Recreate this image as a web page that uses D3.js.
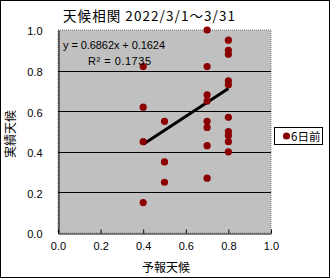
<!DOCTYPE html>
<html><head><meta charset="utf-8">
<script src="https://cdn.jsdelivr.net/npm/d3@7"></script>
<style>body{margin:0;background:#fff}svg{display:block}</style>
</head><body>
<script>
const titleText = "天候相関 2022/3/1～3/31";
const xTitle = "予報天候";
const yTitle = "実績天候";
const seriesName = "6日前";
const forecast = [0.4,0.4,0.4,0.4, 0.5,0.5,0.5, 0.7,0.7,0.7,0.7,0.7,0.7,0.7,0.7, 0.8,0.8,0.8,0.8,0.8,0.8,0.8,0.8,0.8,0.8];
const actual   = [0.82,0.62,0.45,0.15, 0.55,0.35,0.25, 1.0,0.82,0.68,0.65,0.55,0.52,0.43,0.27, 0.95,0.90,0.88,0.75,0.73,0.57,0.50,0.48,0.45,0.40];
const trendCoef = [0.6862, 0.1624]; // slope, intercept
const rSquared = "0.1735";
const xTicks = [0,0.2,0.4,0.6,0.8,1.0];
const yTicks = [0,0.2,0.4,0.6,0.8,1.0];

const W=330,H=278;
const svg=d3.select("body").append("svg").attr("width",W).attr("height",H);
svg.append("rect").attr("x",0.5).attr("y",0.5).attr("width",W-1).attr("height",H-1).attr("fill","#fff").attr("stroke","#000");

const L=58,R=271,T=30,B=233;
const x=d3.scaleLinear().domain([0,1]).range([L,R]);
const y=d3.scaleLinear().domain([0,1]).range([B,T]);

svg.append("rect").attr("x",L).attr("y",T).attr("width",R-L).attr("height",B-T)
  .attr("fill","#c0c0c0").attr("stroke","#808080").attr("stroke-dasharray","1,1");

// gridlines
svg.append("g").selectAll("line").data(yTicks.filter(d=>d>0&&d<1)).join("line")
  .attr("x1",L).attr("x2",R).attr("y1",d=>Math.round(y(d))+0.5).attr("y2",d=>Math.round(y(d))+0.5)
  .attr("stroke","#000");

const fnum=d3.format(".1f");
const lat="Liberation Sans, Arial, sans-serif";
// axes
const yAxis=svg.append("g").attr("transform",`translate(${L+0.5},0)`)
  .call(d3.axisLeft(y).tickValues(yTicks).tickFormat(fnum).tickSize(0).tickPadding(16));
const xAxis=svg.append("g").attr("transform",`translate(0,${B+0.5})`)
  .call(d3.axisBottom(x).tickValues(xTicks).tickFormat(fnum).tickSizeInner(-4).tickSizeOuter(0).tickPadding(9));
[yAxis,xAxis].forEach(a=>{
  a.select(".domain").attr("stroke","#000");
  a.selectAll("text").attr("font-family",lat).attr("font-size",11).attr("fill","#000");
  a.selectAll(".tick line").attr("stroke","#000");
});
yAxis.selectAll("text").attr("dy","0.45em");

// trendline
const xs=d3.extent(forecast);
svg.append("line").attr("x1",x(xs[0])).attr("y1",y(trendCoef[0]*xs[0]+trendCoef[1]))
  .attr("x2",x(xs[1])).attr("y2",y(trendCoef[0]*xs[1]+trendCoef[1]))
  .attr("stroke","#000").attr("stroke-width",3);

// points
svg.append("g").selectAll("circle").data(forecast.map((f,i)=>[f,actual[i]])).join("circle")
  .attr("cx",d=>x(d[0])).attr("cy",d=>y(d[1])).attr("r",3.6).attr("fill","#8b0000");

const jp="'Noto Sans CJK JP', sans-serif";
svg.append("text").attr("x",63).attr("y",21).attr("font-family",jp).attr("font-size",13.5)
  .attr("textLength",172).attr("lengthAdjust","spacing").text(titleText);
svg.append("text").attr("x",63).attr("y",49).attr("font-family",lat).attr("font-size",11)
  .attr("textLength",102).attr("lengthAdjust","spacing").text(`y = ${trendCoef[0]}x + ${trendCoef[1]}`);
svg.append("text").attr("x",88).attr("y",65).attr("font-family",lat).attr("font-size",11)
  .attr("textLength",63).attr("lengthAdjust","spacing").text(`R² = ${rSquared}`);
svg.append("text").attr("x",166).attr("y",272).attr("text-anchor","middle").attr("font-family",jp).attr("font-size",12).text(xTitle);
svg.append("text").attr("transform","translate(15,134) rotate(-90)").attr("text-anchor","middle").attr("font-family",jp).attr("font-size",12).text(yTitle);

// legend
const lg=svg.append("g");
lg.append("rect").attr("x",274.5).attr("y",127.5).attr("width",48).attr("height",17).attr("fill","#fff").attr("stroke","#000");
lg.append("circle").attr("cx",286.5).attr("cy",136).attr("r",3.6).attr("fill","#8b0000");
lg.append("text").attr("x",291).attr("y",140.5).attr("font-family",jp).attr("font-size",11.5).text(seriesName);
</script>
</body></html>
